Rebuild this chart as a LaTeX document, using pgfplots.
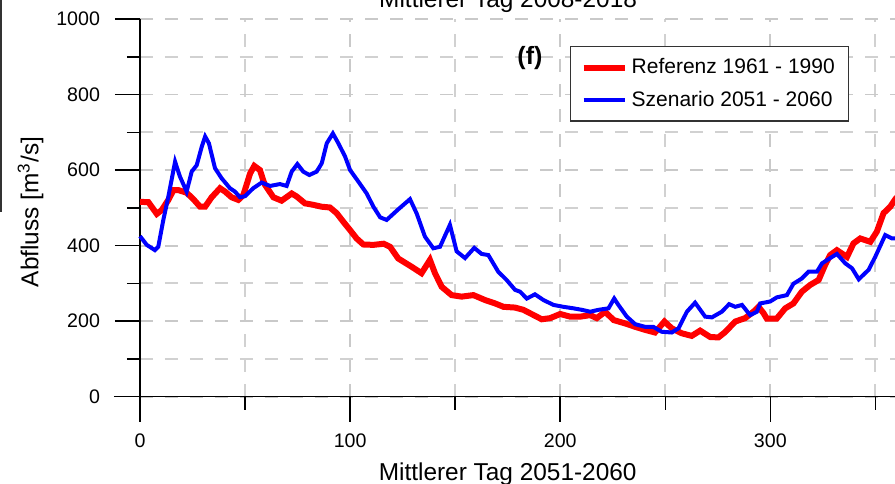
\documentclass[border=0pt]{standalone}
\usepackage{fontspec}
\setmainfont{Liberation Sans}
\usepackage{pgfplots}
\pgfplotsset{compat=1.18}

\newcommand{\lblfont}{\fontsize{12.2}{14}\selectfont}
\newcommand{\legfont}{\fontsize{10.5}{12}\selectfont}
\newcommand{\tickfont}{\fontsize{9.8}{11}\selectfont}

\begin{document}
\begin{tikzpicture}
\useasboundingbox (-70pt,-43.15pt) rectangle (377.5pt,198.35pt);
\clip (-70pt,-43.15pt) rectangle (377.5pt,198.35pt);
\begin{axis}[
  at={(0,0)}, anchor=origin,
  x=1.0505pt, y=0.18885pt,
  xmin=0, xmax=365, ymin=0, ymax=1000,
  clip=false,
  axis lines=left,
  axis line style={-, line width=0.75pt, black},
  x axis line style={shorten <=-13pt},
  y axis line style={shorten <=-12.2pt},
  xtick={0,100,200,300}, minor xtick={50,150,250,350},
  ytick={0,200,...,1000}, minor ytick={100,300,...,900},
  tick align=outside,
  major tick length=12.5pt, minor tick length=6.5pt,
  tick style={black, line width=0.75pt, solid},
  grid=both,
  major grid style={gray!42, line width=0.9pt, dash pattern=on 6.5pt off 6pt},
  minor grid style={gray!36, line width=0.9pt, dash pattern=on 6.5pt off 6pt},
  /pgf/number format/assume math mode=true,
  /pgf/number format/1000 sep={},
  ticklabel style={font=\tickfont},
  xticklabel style={yshift=-2.5pt},
  yticklabel style={xshift=-4pt},
  legend style={at={(axis cs:204.7,928.5)}, anchor=north west,
    draw=black!80, line width=0.6pt, fill=white, font=\legfont,
    inner xsep=5pt, inner ysep=4pt, row sep=3pt},
  legend cell align=left,
  legend image code/.code={\draw[#1] (0pt,0pt) -- (20.5pt,0pt);},
]
\addplot[red, line width=3pt] coordinates {
(0,516)(4,515)(8,484)(10.3,494)(13.5,521)(15.9,547)(18.3,547)(22.2,540)
(25.4,523)(28.6,503)(31,503)(34.1,528)(38.1,552)(40.5,543)(43.6,528)
(46.8,521)(49.2,534)(52.4,591)(54.4,611)(57.1,600)(58.7,572)(59.5,561)
(63.5,528)(67.4,519)(72.2,538)(74.6,530)(78.5,512)(82.5,508)(86.5,503)
(90.4,501)(93.6,486)(96.8,463)(100,441)(103.1,419)(106.3,403)(111.1,402)
(116,405)(119,397)(122.9,366)(129.3,344)(134,327)(138,362)(140.4,327)
(143.6,291)(148.3,269)(153.1,265)(158.7,269)(164.2,256)(169,247)(173,238)
(178.5,236)(182.5,230)(191.2,205)(195.2,208)(200,219)(204.7,212)(209.5,212)
(214.3,216)(217.4,208)(221.4,225)(225.4,203)(230.9,194)(235.7,185)(240.4,177)
(245.1,170)(249.6,199)(253.1,181)(257.8,168)(262.6,161)(266.6,175)(271.4,158)
(275.3,157)(278.5,171)(283.3,199)(288,208)(292,225)(294.4,238)(296.8,221)
(298.3,207)(303.1,207)(307.1,234)(311,247)(315,278)(319,296)(323,309)
(326.1,349)(328.5,375)(331.7,388)(336.5,370)(339.6,406)(342.8,419)(347.6,410)
(350.7,437)(353.9,486)(357.1,503)(359.5,523)(363,545)(365,555)
};
\addlegendentry{Referenz 1961 - 1990}
\addplot[blue, line width=2pt] coordinates {
(0,425)(3.2,402)(7.1,388)(8.7,397)(11.1,468)(13.5,530)(16.7,622)(19,583)
(22.2,543)(24.6,596)(27,613)(29.4,662)(31,689)(32.8,671)(35.7,605)(38.9,578)
(42.8,552)(45.2,543)(47.6,528)(50,531)(53.9,552)(57.9,567)(61.9,558)(66.6,563)
(69.8,558)(72.2,596)(74.9,616)(77.7,596)(80.6,587)(84.1,596)(86.5,618)
(88.9,671)(91.8,697)(94.4,671)(97.6,636)(100,600)(104,569)(107.9,538)
(111.1,503)(114.3,475)(117.4,468)(122.9,496)(128.5,523)(131.7,485)(135.6,424)
(139.6,393)(142.8,397)(147.5,455)(150.7,385)(154.7,367)(159.1,394)(162.6,378)
(165.8,375)(170.5,331)(174.5,309)(178.5,283)(180.9,278)(184.1,260)(188,271)
(192,256)(196.8,243)(201.5,238)(206.3,234)(210.3,230)(214.3,225)(218.2,230)
(223,234)(225.7,260)(227.7,243)(231.7,212)(235.7,192)(240.4,185)(244.3,185)
(248.3,172)(253.1,170)(256.3,181)(260.3,225)(264.2,249)(269,212)(272.2,210)
(276.9,225)(280.4,245)(283.3,238)(286.5,243)(290.4,216)(293.6,225)(295.2,247)
(299.9,252)(303.1,263)(307.9,269)(311,299)(315,313)(318.2,331)(322.2,331)
(324.6,353)(328.5,367)(331.7,378)(335.7,353)(338.9,340)(342.1,311)(346.8,336)
(350,371)(354.7,428)(357.9,419)(359.5,419)(365,415)
};
\addlegendentry{Szenario 2051 - 2060}
% long bottom ticks of the x axis
\pgfplotsinvokeforeach{100,200,300}{
  \draw[black, line width=0.75pt] (axis cs:#1,0) -- ++(0pt,-12.5pt);
}
\node[font=\lblfont, rotate=90] at (axis cs:-52.1,489) {Abfluss [m\textsuperscript{3}/s]};
\node[font=\lblfont] at (axis cs:175,-205) {Mittlerer Tag 2051-2060};
\node[font=\lblfont, anchor=base] at (axis cs:175.2,1031.8) {Mittlerer Tag 2008-2018};
\node[font=\fontsize{12.5}{14}\selectfont\bfseries] at (axis cs:185.6,897) {(f)};
\end{axis}
\draw[black!80, line width=0.8pt] (-69.5pt,200pt) -- (-69.5pt,92.35pt);
\end{tikzpicture}
\end{document}
